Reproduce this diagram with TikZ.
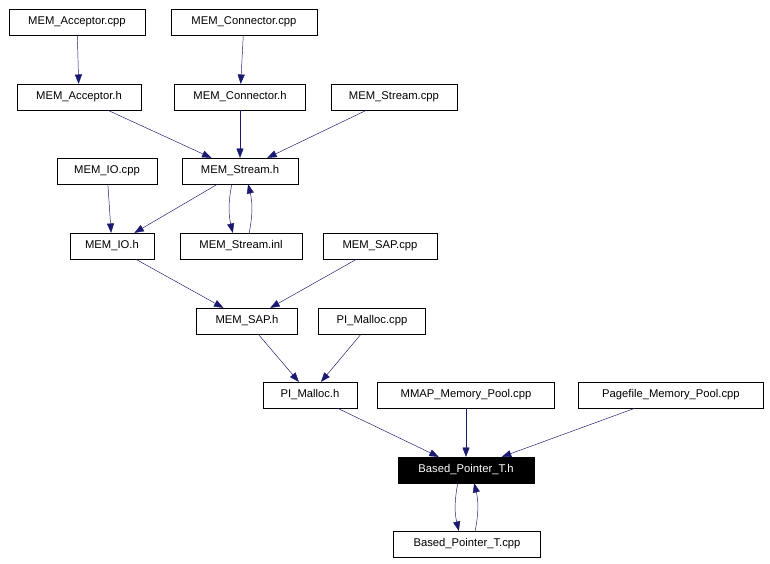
\documentclass[tikz,border=0pt]{standalone}
\usepackage{fontspec}
\setmainfont{Liberation Sans}
\usetikzlibrary{arrows.meta}
\definecolor{edgeblue}{HTML}{191970}
\tikzset{
  file/.style={draw, fill=white, inner sep=0pt, minimum height=22pt,
    minimum width=#1*0.85pt, font=\fontsize{9.6}{11}\selectfont},
  sel/.style={fill=black, text=white},
  dep/.style={draw=edgeblue, -{Triangle[length=8pt,width=6pt]}},
}
\begin{document}
\begin{tikzpicture}[x=0.03cm,y=-0.03cm]
            \useasboundingbox (0,0) rectangle (770,564);
            % Row 1
            \node[file=137] (acpp) at (77,22) {MEM\_Acceptor.cpp};
            \node[file=147] (ccpp) at (244,22) {MEM\_Connector.cpp};
            % Row 2
            \node[file=125] (ah) at (79,97) {MEM\_Acceptor.h};
            \node[file=132] (ch) at (240,97) {MEM\_Connector.h};
            \node[file=127] (scpp) at (394,97) {MEM\_Stream.cpp};
            % Row 3
            \node[file=100] (iocpp) at (107,171) {MEM\_IO.cpp};
            \node[file=116] (sh) at (240,171) {MEM\_Stream.h};
            % Row 4
            \node[file=84] (ioh) at (112,246) {MEM\_IO.h};
            \node[file=122] (sinl) at (241,246) {MEM\_Stream.inl};
            \node[file=114] (sapcpp) at (380,246) {MEM\_SAP.cpp};
            % Row 5
            \node[file=101] (saph) at (247,321) {MEM\_SAP.h};
            \node[file=107] (pmcpp) at (372,321) {PI\_Malloc.cpp};
            % Row 6
            \node[file=94] (pmh) at (310,395) {PI\_Malloc.h};
            \node[file=178] (mmap) at (466,395) {MMAP\_Memory\_Pool.cpp};
            \node[file=186] (pf) at (671,395) {Pagefile\_Memory\_Pool.cpp};
            % Row 7
            \node[file=137, sel] (bh) at (466,470) {Based\_Pointer\_T.h};
            \node[file=148] (bcpp) at (467,544) {Based\_Pointer\_T.cpp};

            % Edges
            \draw[dep] (acpp) -- (ah);
            \draw[dep] (ccpp) -- (ch);
            \draw[dep] (ah) -- (sh);
            \draw[dep] (ch) -- (sh);
            \draw[dep] (scpp) -- (sh);
            \draw[dep] (sh) -- (ioh);
            \draw[dep] (iocpp) -- (ioh);
            \draw[dep] ([xshift=-7pt]sh.south) to[bend right=12] ([xshift=-7pt]sinl.north);
            \draw[dep] ([xshift=7pt]sinl.north) to[bend right=12] ([xshift=7pt]sh.south);
            \draw[dep] (ioh) -- (saph);
            \draw[dep] (sapcpp) -- (saph);
            \draw[dep] (saph) -- (pmh);
            \draw[dep] (pmcpp) -- (pmh);
            \draw[dep] (pmh) -- (bh);
            \draw[dep] (mmap) -- (bh);
            \draw[dep] (pf) -- (bh);
            \draw[dep] ([xshift=-7pt]bh.south) to[bend right=12] ([xshift=-7pt]bcpp.north);
            \draw[dep] ([xshift=7pt]bcpp.north) to[bend right=12] ([xshift=7pt]bh.south);
\end{tikzpicture}
\end{document}
